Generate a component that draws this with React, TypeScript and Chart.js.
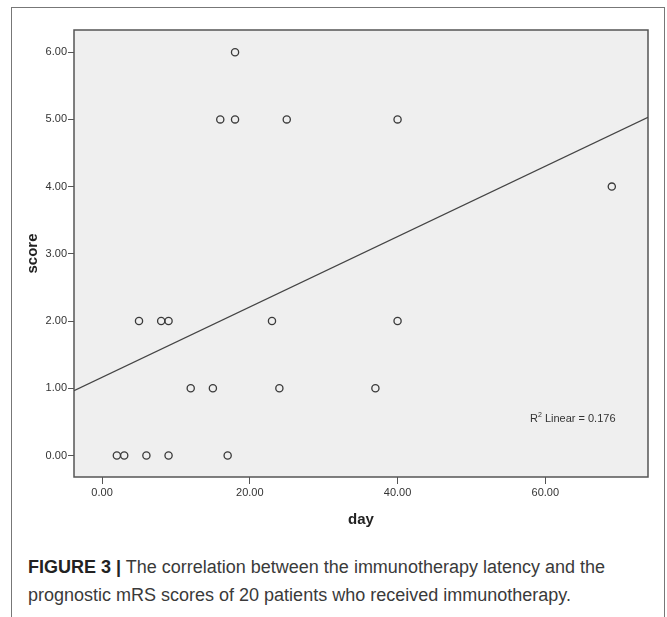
import React, { useEffect, useRef } from "react";
import { Chart, registerables } from "chart.js";

Chart.register(...registerables);

// ---- data ----
const days = [2, 3, 6, 9, 17, 12, 15, 24, 37, 5, 8, 9, 23, 40, 69, 16, 18, 25, 40, 18];
const scores = [0, 0, 0, 0, 0, 1, 1, 1, 1, 2, 2, 2, 2, 2, 4, 5, 5, 5, 5, 6];
const xTickValues = [0, 20, 40, 60];
const yTickValues = [0, 1, 2, 3, 4, 5, 6];
const xAxisTitle = "day";
const yAxisTitle = "score";
const xRange = [-3.8, 73.9];
const yRange = [-0.32, 6.33];
const captionBold = "FIGURE 3 |";
const captionLine1 = " The correlation between the immunotherapy latency and the";
const captionLine2 = "prognostic mRS scores of 20 patients who received immunotherapy.";

const FONT = "'Liberation Sans', Arial, Helvetica, sans-serif";

function linearFit(xs: number[], ys: number[]) {
  const n = xs.length;
  const mx = xs.reduce((a, b) => a + b, 0) / n;
  const my = ys.reduce((a, b) => a + b, 0) / n;
  let sxy = 0, sxx = 0, syy = 0;
  for (let i = 0; i < n; i++) {
    sxy += (xs[i] - mx) * (ys[i] - my);
    sxx += (xs[i] - mx) ** 2;
    syy += (ys[i] - my) ** 2;
  }
  const slope = sxy / sxx;
  const intercept = my - slope * mx;
  const r2 = (sxy * sxy) / (sxx * syy);
  return { slope, intercept, r2 };
}

export default function App() {
  const canvasRef = useRef<HTMLCanvasElement | null>(null);

  useEffect(() => {
    const canvas = canvasRef.current;
    if (!canvas) return;
    const fit = linearFit(days, scores);
    const points = days.map((d, i) => ({ x: d, y: scores[i] }));
    const fitLine = xRange.map((x) => ({ x, y: fit.intercept + fit.slope * x }));

    const plotBg = {
      id: "plotBg",
      beforeDraw(chart: any) {
        const { ctx, chartArea: a } = chart;
        ctx.save();
        ctx.fillStyle = "#efefef";
        ctx.fillRect(a.left, a.top, a.right - a.left, a.bottom - a.top);
        ctx.restore();
      },
      beforeDatasetsDraw(chart: any) {
        const { ctx, chartArea: a } = chart;
        ctx.save();
        ctx.strokeStyle = "#555";
        ctx.lineWidth = 1.5;
        ctx.strokeRect(a.left, a.top, a.right - a.left, a.bottom - a.top);
        ctx.restore();
      },
      afterDraw(chart: any) {
        const { ctx, chartArea: a } = chart;
        ctx.save();
        ctx.fillStyle = "#333";
        ctx.textBaseline = "middle";
        let x = a.right - 118;
        const y = a.top + 389;
        ctx.font = `11px ${FONT}`;
        ctx.fillText("R", x, y);
        x += ctx.measureText("R").width;
        ctx.font = `7px ${FONT}`;
        ctx.fillText("2", x, y - 4);
        x += ctx.measureText("2").width;
        ctx.font = `11px ${FONT}`;
        ctx.fillText(" Linear = " + fit.r2.toFixed(3), x, y);
        ctx.restore();
      },
    };

    const chart = new Chart(canvas, {
      type: "scatter",
      data: {
        datasets: [
          {
            data: points,
            pointRadius: 3.6,
            pointHoverRadius: 3.6,
            pointBorderColor: "#3a3a3a",
            pointBackgroundColor: "rgba(0,0,0,0)",
            pointBorderWidth: 1.3,
            showLine: false,
          } as any,
          {
            type: "line",
            data: fitLine,
            borderColor: "#444",
            borderWidth: 1.2,
            pointRadius: 0,
            showLine: true,
            fill: false,
          } as any,
        ],
      },
      options: {
        animation: false,
        responsive: false,
        devicePixelRatio: 1,
        layout: { padding: { left: 0, top: 30, right: 19, bottom: 0 } },
        plugins: { legend: { display: false }, tooltip: { enabled: false } },
        scales: {
          x: {
            type: "linear",
            min: xRange[0],
            max: xRange[1],
            afterBuildTicks: (s: any) => {
              s.ticks = xTickValues.map((v) => ({ value: v }));
            },
            afterFit: (s: any) => {
              s.height = 63;
            },
            ticks: {
              callback: (v: any) => Number(v).toFixed(2),
              font: { size: 11, family: FONT },
              color: "#333",
              padding: 2,
              maxRotation: 0,
              autoSkip: false,
            },
            grid: { drawOnChartArea: false, drawTicks: true, tickLength: 7, color: "#555" },
            border: { display: false },
            title: {
              display: true,
              text: xAxisTitle,
              font: { size: 15, weight: "bold", family: FONT },
              color: "#222",
              padding: { top: 0, bottom: 11 },
            },
          },
          y: {
            type: "linear",
            min: yRange[0],
            max: yRange[1],
            afterBuildTicks: (s: any) => {
              s.ticks = yTickValues.map((v) => ({ value: v }));
            },
            afterFit: (s: any) => {
              s.width = 74;
            },
            ticks: {
              callback: (v: any) => Number(v).toFixed(2),
              font: { size: 11, family: FONT },
              color: "#333",
              padding: 1,
              autoSkip: false,
            },
            grid: { drawOnChartArea: false, drawTicks: true, tickLength: 6, color: "#555" },
            border: { display: false },
            title: {
              display: true,
              text: yAxisTitle,
              font: { size: 15, weight: "bold", family: FONT },
              color: "#222",
              padding: { top: 24, bottom: 0 },
            },
          },
        },
      },
      plugins: [plotBg],
    } as any);
    return () => chart.destroy();
  }, []);

  return (
    <div
      style={{
        position: "absolute",
        left: 0,
        top: 0,
        width: 667,
        height: 617,
        overflow: "hidden",
        background: "#fff",
        fontFamily: FONT,
      }}
    >
      <div
        style={{
          position: "absolute",
          left: 11,
          top: 7,
          width: 652,
          height: 700,
          border: "1.5px solid #777",
        }}
      />
      <canvas
        ref={canvasRef}
        width={667}
        height={540}
        style={{ position: "absolute", left: 0, top: 0, width: 667, height: 540 }}
      />
      <div
        style={{
          position: "absolute",
          left: 28,
          top: 553,
          fontSize: 18,
          lineHeight: "28px",
          color: "#3a3a3a",
          whiteSpace: "nowrap",
        }}
      >
        <div>
          <b style={{ color: "#222" }}>{captionBold}</b>
          {captionLine1}
        </div>
        <div>{captionLine2}</div>
      </div>
    </div>
  );
}
